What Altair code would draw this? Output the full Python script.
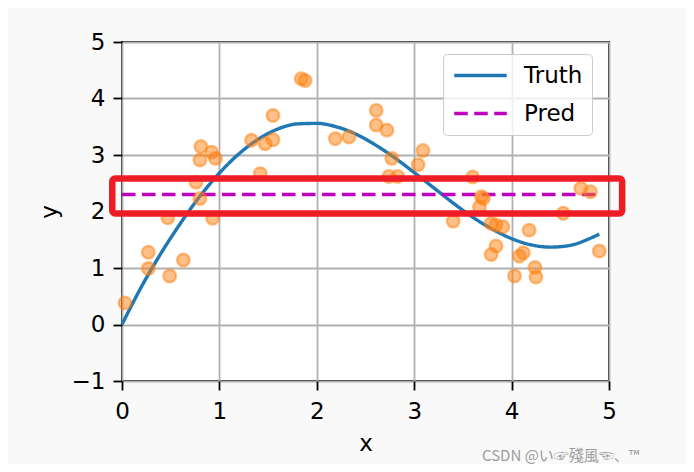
import altair as alt
import pandas as pd

# ---- data ----
x_train = [0.03, 0.27, 0.27, 0.49, 0.63, 0.47, 0.76, 0.80, 0.81, 0.80, 0.92, 0.96, 0.93,
           1.33, 1.47, 1.55, 1.55, 1.42,
           1.84, 1.88, 2.19, 2.33, 2.61, 2.61, 2.72, 2.77, 2.74, 2.83, 3.04, 3.09,
           3.60, 3.69, 3.71, 3.67, 3.40, 3.79, 3.84, 3.91, 4.18, 3.84, 3.79, 4.12,
           4.08, 4.24, 4.25, 4.03, 4.53, 4.71, 4.81, 4.90]
y_train = [0.38, 1.28, 0.99, 0.86, 1.14, 1.89, 2.52, 2.23, 3.15, 2.91, 3.05, 2.94, 1.88,
           3.26, 3.20, 3.27, 3.70, 2.67,
           4.35, 4.32, 3.29, 3.32, 3.79, 3.53, 3.44, 2.94, 2.62, 2.62, 2.83, 3.08,
           2.61, 2.26, 2.23, 2.08, 1.83, 1.79, 1.76, 1.73, 1.67, 1.39, 1.24, 1.27,
           1.21, 1.01, 0.84, 0.86, 1.97, 2.41, 2.35, 1.30]

x_truth = [0.0, 0.2, 0.4, 0.6, 0.8, 1.0, 1.2, 1.4, 1.6, 1.8, 2.0, 2.2, 2.4,
           2.6, 2.8, 3.0, 3.2, 3.4, 3.6, 3.8, 4.0, 4.2, 4.4, 4.6, 4.8, 4.9]
y_truth = [0.00, 0.67, 1.26, 1.79, 2.27, 2.68, 3.02, 3.28, 3.46, 3.55, 3.56, 3.50, 3.37,
           3.18, 2.95, 2.69, 2.42, 2.15, 1.90, 1.69, 1.52, 1.41, 1.37, 1.40, 1.52, 1.60]

x_pred = [0.0, 4.9]
y_pred = [2.30, 2.30]

series_names = ["Truth", "Pred"]
series_colors = ["#1f77b4", "#bf00bf"]

# red annotation box (data units)
box_x = [-0.10, 5.135]
box_y = [1.965, 2.585]

x_ticks = [0, 1, 2, 3, 4, 5]
y_ticks = [-1, 0, 1, 2, 3, 4, 5]

watermark = "CSDN @い☞殘風☜、™"

# ---- build tables ----
lines_df = pd.DataFrame(
    {"series": ["Truth"] * len(x_truth) + ["Pred"] * len(x_pred),
     "x": x_truth + x_pred,
     "y": y_truth + y_pred,
     "order": list(range(len(x_truth))) + list(range(len(x_pred)))}
)
train_df = pd.DataFrame({"x": x_train, "y": y_train})
box_df = pd.DataFrame({"x": [box_x[0]], "x2": [box_x[1]], "y": [box_y[0]], "y2": [box_y[1]]})
wm_df = pd.DataFrame({"t": [watermark]})

FONT = "DejaVu Sans"

xscale = alt.Scale(domain=[0, 5], nice=False, zero=False)
yscale = alt.Scale(domain=[-1, 5], nice=False, zero=False)

xaxis = alt.Axis(values=x_ticks, format="d", title="x", titlePadding=9,
                 labelPadding=10, labelFlush=False)
yaxis = alt.Axis(values=y_ticks, format="d", title="y", titlePadding=10,
                 labelPadding=8, labelFlush=False)

lines = alt.Chart(lines_df).mark_line(strokeWidth=3.4, interpolate="monotone").encode(
    x=alt.X("x:Q", scale=xscale, axis=xaxis),
    y=alt.Y("y:Q", scale=yscale, axis=yaxis),
    order="order:Q",
    color=alt.Color("series:N",
                    scale=alt.Scale(domain=series_names, range=series_colors),
                    sort=series_names, legend=alt.Legend(title=None)),
    strokeDash=alt.StrokeDash("series:N",
                              scale=alt.Scale(domain=series_names, range=[[1, 0], [13.5, 6.5]]),
                              sort=series_names, legend=alt.Legend(title=None)),
)

points = alt.Chart(train_df).mark_circle(
    size=160, fill="#ff7f0e", fillOpacity=0.5,
    stroke="#ff7f0e", strokeOpacity=0.5, strokeWidth=2.3, opacity=1
).encode(
    x=alt.X("x:Q", scale=xscale),
    y=alt.Y("y:Q", scale=yscale),
)

box = alt.Chart(box_df).mark_rect(
    fill="#ffffff", fillOpacity=0, stroke="#ee1c25", strokeWidth=6.5,
    cornerRadius=3, clip=False
).encode(
    x=alt.X("x:Q", scale=xscale), x2="x2:Q",
    y=alt.Y("y:Q", scale=yscale), y2="y2:Q",
)

wm = alt.Chart(wm_df).mark_text(
    align="left", baseline="alphabetic", fontSize=15,
    font="Noto Sans CJK SC", color="#9c9c9c"
).encode(
    x=alt.value(360), y=alt.value(419), text="t:N"
)

chart = alt.layer(lines, points, box, wm).properties(
    width=487, height=339,
    autosize=alt.AutoSizeParams(type="none"),
    padding={"left": 114, "top": 34, "right": 77, "bottom": 83},
    background="#f9f9f9",
).configure_view(
    stroke="black", strokeWidth=1.8, fill="white"
).configure_axis(
    domain=False, grid=True, gridColor="#b0b0b0", gridWidth=1.8,
    ticks=True, tickColor="black", tickSize=9, tickWidth=1.8,
    labelFont=FONT, labelFontSize=23, labelColor="black",
    titleFont=FONT, titleFontSize=23, titleColor="black", titleFontWeight="normal",
).configure_legend(
    orient="none", legendX=321, legendY=12,
    padding=9, fillColor="rgba(255,255,255,0.8)", strokeColor="#cccccc",
    cornerRadius=4, symbolType="M-2.5,0H2.5", symbolSize=441, symbolStrokeWidth=3.4,
    symbolOffset=16,
    labelFont=FONT, labelFontSize=23, labelColor="black", labelOffset=31,
    rowPadding=13,
)

chart.save("out.html", embed_options={"renderer": "svg", "actions": False})
